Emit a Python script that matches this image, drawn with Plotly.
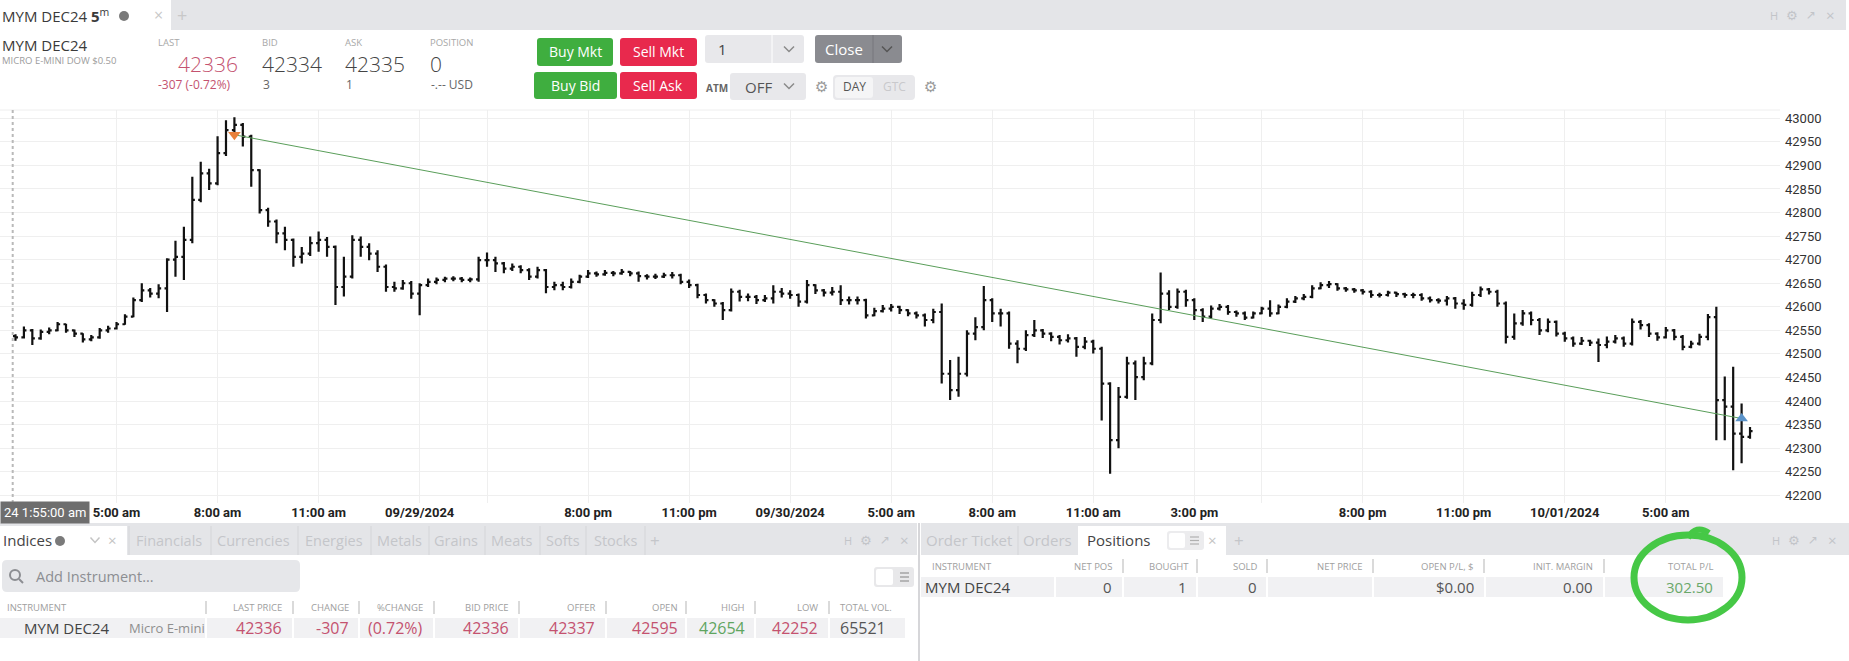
import plotly.graph_objects as go

# 15 minute bars
# session A: fri 09/27 02:00-13:45, session B: sun 09/29 15:00-mon 13:45, session C: mon 15:00-tue 07:30
bar_close = [
    42535, 42550, 42533, 42547, 42550, 42563, 42550, 42543, 42531, 42535, 42550, 42554,
    42563, 42579, 42614, 42635, 42628, 42639, 42700, 42706, 42742, 42827, 42883, 42862,
    42926, 42975, 42986, 42961, 42890, 42805, 42781, 42756, 42742, 42706, 42713, 42735,
    42742, 42727, 42642, 42664, 42742, 42727, 42713, 42685, 42642, 42639, 42650, 42628,
    # session B
    42646, 42653, 42657, 42660, 42660, 42657, 42658, 42699, 42699, 42692, 42681, 42685,
    42678, 42664, 42678, 42642, 42646, 42642, 42653, 42664, 42671, 42669, 42672, 42671,
    42674, 42671, 42665, 42664, 42664, 42667, 42667, 42653, 42646, 42625, 42614, 42607,
    42593, 42632, 42621, 42621, 42614, 42618, 42632, 42628, 42625, 42611, 42646, 42635,
    42630, 42632, 42614, 42614, 42614, 42582, 42591, 42596, 42600, 42593, 42586, 42582,
    42572, 42589, 42458, 42423, 42458, 42543, 42557, 42614, 42586, 42586, 42522, 42511,
    42540, 42550, 42543, 42536, 42529, 42533, 42515, 42526, 42511, 42437, 42317, 42409,
    42480, 42451, 42480, 42572, 42628, 42600, 42632, 42614,
    # session C
    42593, 42579, 42596, 42600, 42589, 42586, 42577, 42586, 42596, 42586, 42600, 42611,
    42618, 42621, 42639, 42646, 42648, 42639, 42637, 42635, 42632, 42625, 42625, 42630,
    42627, 42625, 42625, 42618, 42614, 42613, 42618, 42607, 42604, 42625, 42637, 42632,
    42607, 42536, 42565, 42586, 42572, 42550, 42568, 42543, 42533, 42522, 42528, 42524,
    42519, 42526, 42533, 42522, 42568, 42561, 42543, 42535, 42550, 42536, 42515, 42522,
    42536, 42578, 42402, 42388, 42331, 42324, 42336,
]
bar_high = [
    42542, 42558, 42553, 42552, 42556, 42568, 42564, 42552, 42544, 42540, 42555, 42560,
    42568, 42584, 42620, 42650, 42640, 42648, 42703, 42740, 42770, 42876, 42908, 42893,
    42962, 42996, 43002, 42990, 42965, 42892, 42810, 42785, 42770, 42745, 42727, 42749,
    42760, 42748, 42730, 42706, 42752, 42749, 42735, 42720, 42690, 42653, 42657, 42655,
    42650, 42660, 42662, 42664, 42665, 42663, 42662, 42706, 42715, 42706, 42695, 42692,
    42688, 42682, 42685, 42680, 42653, 42653, 42660, 42668, 42678, 42675, 42678, 42676,
    42680, 42676, 42675, 42669, 42670, 42672, 42674, 42670, 42658, 42649, 42628, 42616,
    42610, 42639, 42636, 42628, 42625, 42625, 42646, 42640, 42635, 42628, 42657, 42648,
    42638, 42642, 42646, 42622, 42622, 42617, 42598, 42604, 42606, 42602, 42595, 42590,
    42586, 42596, 42607, 42487, 42494, 42550, 42578, 42644, 42618, 42596, 42590, 42529,
    42550, 42572, 42553, 42546, 42540, 42542, 42536, 42536, 42530, 42515, 42440, 42430,
    42494, 42486, 42494, 42586, 42673, 42635, 42639, 42636,
    42618, 42597, 42603, 42606, 42604, 42592, 42590, 42590, 42600, 42614, 42605, 42618,
    42623, 42627, 42646, 42652, 42655, 42650, 42642, 42640, 42638, 42635, 42630, 42634,
    42632, 42630, 42630, 42629, 42622, 42618, 42623, 42621, 42616, 42632, 42643, 42640,
    42636, 42611, 42586, 42593, 42590, 42576, 42575, 42571, 42547, 42537, 42536, 42530,
    42533, 42537, 42540, 42537, 42575, 42572, 42565, 42546, 42557, 42553, 42540, 42528,
    42543, 42585, 42600, 42452, 42473, 42395, 42345,
]
bar_low = [
    42528, 42533, 42519, 42530, 42542, 42548, 42545, 42536, 42524, 42527, 42532, 42545,
    42552, 42562, 42578, 42610, 42620, 42618, 42589, 42664, 42657, 42735, 42822, 42848,
    42858, 42920, 42961, 42940, 42855, 42798, 42770, 42735, 42720, 42685, 42692, 42708,
    42717, 42706, 42604, 42622, 42660, 42706, 42699, 42674, 42632, 42632, 42636, 42617,
    42582, 42642, 42648, 42652, 42654, 42652, 42652, 42653, 42685, 42674, 42671, 42676,
    42671, 42657, 42660, 42629, 42635, 42635, 42639, 42650, 42661, 42664, 42666, 42665,
    42668, 42665, 42653, 42658, 42659, 42661, 42660, 42648, 42640, 42618, 42607, 42600,
    42572, 42590, 42611, 42612, 42606, 42610, 42607, 42620, 42617, 42600, 42607, 42627,
    42622, 42624, 42604, 42605, 42605, 42575, 42580, 42588, 42590, 42585, 42580, 42575,
    42558, 42565, 42437, 42402, 42409, 42452, 42529, 42550, 42568, 42558, 42511, 42480,
    42506, 42536, 42534, 42527, 42520, 42524, 42494, 42510, 42501, 42359, 42246, 42300,
    42405, 42402, 42444, 42476, 42565, 42593, 42596, 42600,
    42572, 42568, 42575, 42592, 42583, 42579, 42572, 42575, 42584, 42579, 42584, 42597,
    42608, 42614, 42618, 42637, 42640, 42634, 42632, 42630, 42626, 42619, 42620, 42622,
    42621, 42619, 42618, 42613, 42609, 42607, 42603, 42596, 42594, 42600, 42621, 42626,
    42600, 42522, 42530, 42560, 42561, 42540, 42546, 42537, 42526, 42515, 42519, 42517,
    42483, 42512, 42522, 42515, 42518, 42552, 42536, 42528, 42533, 42529, 42508, 42512,
    42518, 42529, 42317, 42317, 42253, 42268, 42320,
]
first_open = 42538

# time axis (bar numbers where the 3 hour grid lines fall)
tick_bars = [12, 24, 36, 48, 68, 80, 92, 104, 116, 128, 140, 160, 172, 184, 196]
tick_labels = ["5:00 am", "8:00 am", "11:00 am", "09/29/2024", "8:00 pm", "11:00 pm",
               "09/30/2024", "5:00 am", "8:00 am", "11:00 am", "3:00 pm", "8:00 pm",
               "11:00 pm", "10/01/2024", "5:00 am"]
unlabeled_grid_bars = [56, 148]

# the trade: sell near the top, buy back near the end
trade_bar = [26, 205]
trade_price = [42965, 42363]

# quote header
quote_labels = ["LAST", "BID", "ASK", "POSITION"]
quote_values = ["42336", "42334", "42335", "0"]
quote_subs = ["-307 (-0.72%)", "3", "1", "-.-- USD"]

# watch list
watch_header = ["INSTRUMENT", "LAST PRICE", "CHANGE", "%CHANGE", "BID PRICE", "OFFER",
                "OPEN", "HIGH", "LOW", "TOTAL VOL."]
watch_row = ["MYM DEC24", "42336", "-307", "(0.72%)", "42336", "42337", "42595", "42654",
             "42252", "65521"]
watch_tabs = ["Financials", "Currencies", "Energies", "Metals", "Grains", "Meats", "Softs", "Stocks"]

# positions
pos_header = ["INSTRUMENT", "NET POS", "BOUGHT", "SOLD", "NET PRICE", "OPEN P/L, $",
              "INIT. MARGIN", "TOTAL P/L"]
pos_row = ["MYM DEC24", "0", "1", "0", "", "$0.00", "0.00", "302.50"]

W, H = 1849, 661
UI = "Open Sans"
RED = "#c4526f"
GREEN_TXT = "#5fa55f"


def fx(x):
    return x / W


def fy(y):
    return 1 - y / H


shapes = []
annotations = []


def box(x0, y0, x1, y1, fill, r=0, line=None, lw=1):
    rx, ry = r / W, r / H
    a, b, t, u = fx(x0), fx(x1), fy(y0), fy(y1)
    if r:
        path = (f"M{a+rx},{t} L{b-rx},{t} Q{b},{t} {b},{t-ry} L{b},{u+ry} Q{b},{u} {b-rx},{u} "
                f"L{a+rx},{u} Q{a},{u} {a},{u+ry} L{a},{t-ry} Q{a},{t} {a+rx},{t} Z")
        shapes.append(dict(type="path", xref="paper", yref="paper", path=path, fillcolor=fill,
                           line=dict(width=lw if line else 0, color=line or fill), layer="above"))
    else:
        shapes.append(dict(type="rect", xref="paper", yref="paper", x0=a, x1=b, y0=u, y1=t,
                           fillcolor=fill, line=dict(width=lw if line else 0, color=line or fill),
                           layer="above"))


def dot(cx, cy, r, color):
    shapes.append(dict(type="circle", xref="paper", yref="paper", x0=fx(cx - r), x1=fx(cx + r),
                       y0=fy(cy + r), y1=fy(cy - r), fillcolor=color, line=dict(width=0),
                       layer="above"))


def seg(x0, y0, x1, y1, color, w=1, dash="solid"):
    shapes.append(dict(type="line", xref="paper", yref="paper", x0=fx(x0), y0=fy(y0),
                       x1=fx(x1), y1=fy(y1), line=dict(color=color, width=w, dash=dash),
                       layer="above"))


def chevron(cx, cy, color="#8a8a8a", w=10, h=5):
    path = f"M{fx(cx - w/2)},{fy(cy - h/2)} L{fx(cx)},{fy(cy + h/2)} L{fx(cx + w/2)},{fy(cy - h/2)}"
    shapes.append(dict(type="path", xref="paper", yref="paper", path=path,
                       line=dict(color=color, width=1.5), layer="above"))


def label(x, y, s, size=12, color="#333", anchor="left", family=UI, weight=None, bg=None, pad=0):
    f = dict(size=size, color=color, family=family)
    if weight:
        f["weight"] = weight
    a = dict(xref="paper", yref="paper", x=fx(x), y=fy(y), text=s, showarrow=False,
             xanchor=anchor, yanchor="middle", font=f, borderpad=pad)
    if bg:
        a["bgcolor"] = bg
    annotations.append(a)


def panel_icons(x, y):
    label(x, y, "H", 11, "#c2c4c8", "center")
    label(x + 18, y, "⚙", 13, "#c2c4c8", "center", family="DejaVu Sans")
    label(x + 37, y, "↗", 12, "#c2c4c8", "center", family="DejaVu Sans")
    label(x + 56, y, "×", 15, "#c2c4c8", "center")


# ---- top tab strip
box(0, 0, 1846, 30, "#e4e5e8")
box(0, 0, 171, 30, "white")
label(1, 15, "MYM DEC24 <b>5</b><sup>m</sup>", 15, "#3a3a3a")
dot(124, 16, 5, "#7a7a7a")
label(158, 15, "×", 16, "#c8c8c8", "center")
label(182, 15, "+", 18, "#c8c8c8", "center")
panel_icons(1774, 15)

# ---- quote header
label(1, 45, "MYM DEC24", 15, "#3a3a3a")
label(1, 60, "MICRO E-MINI DOW $0.50", 9.5, "#9c9c9c")
quote_x = [157, 261, 344, 429]
for i, (q, v, s) in enumerate(zip(quote_labels, quote_values, quote_subs)):
    label(quote_x[i], 43, q, 9.5, "#a8a8a8")
    if i == 0:
        label(239, 64, v, 21, RED, "right", weight=300)
        label(quote_x[i], 84, s, 12, RED)
    else:
        label(quote_x[i], 64, v, 21, "#444", weight=300)
        label(quote_x[i] + 1, 84, s, 12, "#666")

# order buttons
box(537, 38, 613, 66, "#3fae3f", r=3)
label(575, 52, "Buy Mkt", 14, "white", "center")
box(620, 38, 697, 66, "#e8294d", r=3)
label(658, 52, "Sell Mkt", 14, "white", "center")
box(534, 72, 617, 99, "#3fae3f", r=3)
label(575, 86, "Buy Bid", 14, "white", "center")
box(620, 72, 697, 99, "#e8294d", r=3)
label(658, 86, "Sell Ask", 14, "white", "center")

box(705, 35, 804, 63, "#e8e8eb", r=3)
seg(772, 35, 772, 63, "white", 1)
label(717, 49, "1", 15, "#444")
chevron(789, 49)
box(815, 35, 902, 63, "#8a8b90", r=3)
seg(873, 35, 873, 63, "#76777c", 1)
label(844, 49, "Close", 15, "white", "center")
chevron(887, 49, "#555")

label(705, 88, "ATM", 10, "#666", weight="bold")
box(730, 73, 806, 100, "#e8e8eb", r=3)
label(758, 87, "OFF", 15, "#555", "center")
chevron(789, 86)
label(821, 87, "⚙", 15, "#9a9a9a", "center", family="DejaVu Sans")
box(833, 75, 915, 100, "#e8e8eb", r=4)
box(835, 77, 873, 98, "#f5f5f6", r=3)
label(854, 87, "DAY", 12, "#555", "center")
label(894, 87, "GTC", 12, "#c9c9cc", "center")
label(930, 87, "⚙", 15, "#9a9a9a", "center", family="DejaVu Sans")

# ---- chart furniture
seg(0, 110, 1780, 110, "#eeeeee", 1)
seg(12.7, 110, 12.7, 503, "#b9b9b9", 2, "dot")
label(0, 512, "24 1:55:00 am", 13, "white", family="Roboto", bg="#6e6e6e", pad=3)

# ---- bottom left: watch list
box(0, 523, 917, 555, "#e4e5e8")
box(0, 526, 127, 555, "white")
label(2, 540, "Indices", 15, "#444")
dot(60, 541, 5, "#7a7a7a")
chevron(95, 540, "#c4c4c4", 9, 5)
label(112, 540, "×", 15, "#c4c4c4", "center")
tab_x = [(134, 204), (216, 291), (303, 365), (376, 422), (434, 478), (490, 533), (545, 580), (591, 639)]
for (a, b), t in zip(tab_x, watch_tabs):
    seg(a - 5, 526, a - 5, 555, "#d4d5d8", 1)
    label((a + b) / 2, 540, t, 14.5, "#c4c6ca", "center")
seg(645, 526, 645, 555, "#d4d5d8", 1)
label(655, 540, "+", 17, "#c4c6ca", "center")
panel_icons(848, 540)

box(2, 560, 300, 592, "#e6e7ea", r=5)
shapes.append(dict(type="circle", xref="paper", yref="paper", x0=fx(10), x1=fx(20), y0=fy(580),
                   y1=fy(570), line=dict(color="#8c8e92", width=2), layer="above"))
seg(19, 579, 23, 583, "#8c8e92", 2)
label(35, 576, "Add Instrument...", 14.5, "#8c8e92")
box(874, 567, 914, 587, "#e8e8ea", r=3)
box(876, 569, 893, 585, "white", r=2)
for yy in (573, 577, 581):
    seg(900, yy, 909, yy, "#9a9a9a", 1.3)

watch_sep = [206, 293, 359, 434, 519, 606, 686, 755, 829]
watch_right = [283, 350, 424, 510, 596, 679, 746, 819]
watch_cells = [(0, 205), (207, 292), (294, 358), (360, 433), (435, 518), (520, 605),
               (607, 685), (687, 754), (756, 828), (830, 905)]
watch_colors = ["#444", RED, RED, RED, RED, RED, RED, GREEN_TXT, RED, "#444"]
for xs in watch_sep:
    seg(xs, 601, xs, 614, "#b5b5b5", 1)
for (a, b) in watch_cells:
    box(a, 618, b, 638, "#f1f1f3")
label(6, 607, watch_header[0], 9.5, "#a0a0a0")
for xr, h in zip(watch_right, watch_header[1:-1]):
    label(xr, 607, h, 9.5, "#a0a0a0", "right")
label(839, 607, watch_header[-1], 9.5, "#a0a0a0")
label(23, 628, watch_row[0], 15, "#444")
label(128, 628, "Micro E-mini", 13, "#8f8f8f")
for xr, v, c in zip(watch_right, watch_row[1:-1], watch_colors[1:-1]):
    label(xr, 628, v, 16, c, "right")
label(839, 628, watch_row[-1], 16, "#555")

seg(919, 523, 919, 661, "#d6d6d9", 2)

# ---- bottom right: positions
box(921, 523, 1849, 555, "#e4e5e8")
label(969, 540, "Order Ticket", 15, "#c4c6ca", "center")
seg(1018, 526, 1018, 555, "#d4d5d8", 1)
label(1047, 540, "Orders", 15, "#c4c6ca", "center")
box(1078, 526, 1226, 555, "white")
label(1119, 540, "Positions", 15, "#444", "center")
box(1167, 531, 1204, 550, "#ececee", r=3)
box(1169, 533, 1185, 548, "white", r=2)
for yy in (537, 540.5, 544):
    seg(1190, yy, 1199, yy, "#b0b0b0", 1.2)
label(1212, 540, "×", 15, "#c4c4c4", "center")
label(1239, 540, "+", 17, "#c4c6ca", "center")
panel_icons(1776, 540)

pos_sep = [1123, 1197, 1267, 1373, 1484, 1604]
pos_right = [1113, 1190, 1259, 1364, 1475, 1594, 1714]
pos_val_right = [1113, 1188, 1258, 1364, 1475, 1594, 1714]
pos_cells = [(921, 1054), (1056, 1122), (1124, 1196), (1198, 1266), (1268, 1372),
             (1374, 1484), (1486, 1603), (1605, 1723)]
for xs in pos_sep:
    seg(xs, 559, xs, 573, "#b5b5b5", 1)
for (a, b) in pos_cells:
    box(a, 577, b, 597, "#f1f1f3")
label(931, 566, pos_header[0], 9.5, "#a0a0a0")
for xr, h in zip(pos_right, pos_header[1:]):
    label(xr, 566, h, 9.5, "#a0a0a0", "right")
label(924, 587, pos_row[0], 15, "#444")
for xr, v in zip(pos_val_right, pos_row[1:]):
    if v:
        label(xr, 587, v, 15, "#6aa86a" if xr == 1714 else "#555", "right")

# hand drawn circle round the total p/l
shapes.append(dict(type="circle", xref="paper", yref="paper", x0=fx(1634), x1=fx(1742),
                   y0=fy(620), y1=fy(535), line=dict(color="#46c846", width=7), layer="above"))
shapes.append(dict(type="path", xref="paper", yref="paper",
                   path=f"M{fx(1688)},{fy(538)} Q{fx(1696)},{fy(524)} {fx(1709)},{fy(533)}",
                   line=dict(color="#46c846", width=6), layer="above"))

# ---- price chart
opens = [first_open] + bar_close[:-1]
bars = list(range(len(bar_close)))

fig = go.Figure()
fig.add_trace(go.Ohlc(x=bars, open=opens, high=bar_high, low=bar_low, close=bar_close,
                      increasing_line_color="#111", decreasing_line_color="#111",
                      line_width=2.2, tickwidth=0.3, hoverinfo="skip"))
fig.add_trace(go.Scatter(x=trade_bar, y=trade_price, mode="lines",
                         line=dict(color="#5a9e5a", width=1), hoverinfo="skip"))
fig.add_trace(go.Scatter(x=trade_bar, y=trade_price, mode="markers",
                         marker=dict(symbol=["triangle-down", "triangle-up"], size=11,
                                     color=["#e8803a", "#5b93c9"]), hoverinfo="skip"))

fig.update_layout(
    width=W, height=H,
    margin=dict(l=0, r=0, t=0, b=0),
    paper_bgcolor="white", plot_bgcolor="white",
    showlegend=False,
    shapes=shapes, annotations=annotations,
    xaxis=dict(domain=[0, fx(1780)], range=[-1.84, 209.56], tickvals=tick_bars,
               ticktext=tick_labels, showgrid=True, gridcolor="#efefef", zeroline=False,
               showline=False, ticks="", rangeslider=dict(visible=False), fixedrange=True,
               minor=dict(tickvals=unlabeled_grid_bars, showgrid=True, gridcolor="#efefef"),
               tickfont=dict(family="Roboto", size=13, color="#222", weight="bold")),
    yaxis=dict(domain=[fy(503), fy(110)], range=[42183.7, 43017.6], side="right", dtick=50,
               tick0=42200, tickformat="d", showgrid=True, gridcolor="#efefef", zeroline=False,
               ticks="", ticklabelstandoff=4, fixedrange=True,
               tickfont=dict(family="Roboto", size=13, color="#333")),
)

fig.write_html("out.html", config={"displayModeBar": False},
               post_script="document.body.style.margin='0';")
